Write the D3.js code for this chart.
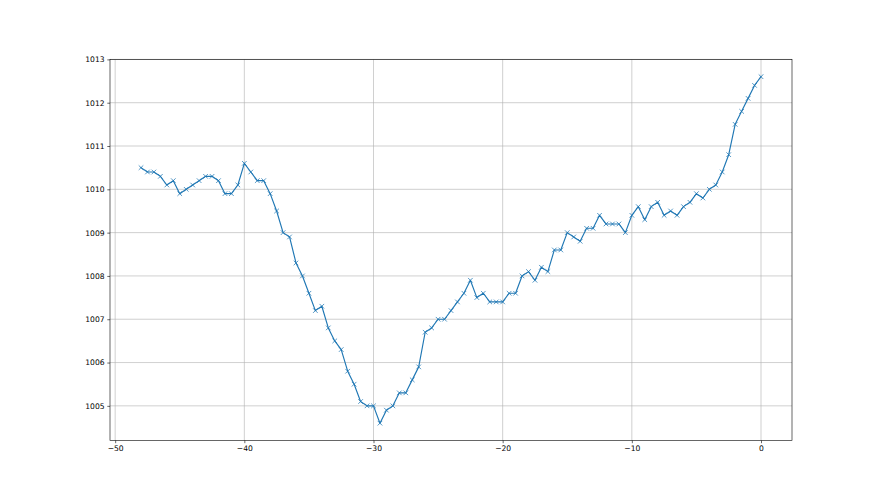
<!DOCTYPE html>
<html><head><meta charset="utf-8">
<script src="https://cdn.jsdelivr.net/npm/d3@7"></script>
<style>
html,body{margin:0;padding:0;background:#fff;}
svg text{font-family:"DejaVu Sans",sans-serif;}
</style></head>
<body><div id="chart"></div>
<script>
const hours = [-48,-47.5,-47,-46.5,-46,-45.5,-45,-44.5,-44,-43.5,-43,-42.5,-42,-41.5,-41,-40.5,-40,-39.5,-39,-38.5,-38,-37.5,-37,-36.5,-36,-35.5,-35,-34.5,-34,-33.5,-33,-32.5,-32,-31.5,-31,-30.5,-30,-29.5,-29,-28.5,-28,-27.5,-27,-26.5,-26,-25.5,-25,-24.5,-24,-23.5,-23,-22.5,-22,-21.5,-21,-20.5,-20,-19.5,-19,-18.5,-18,-17.5,-17,-16.5,-16,-15.5,-15,-14.5,-14,-13.5,-13,-12.5,-12,-11.5,-11,-10.5,-10,-9.5,-9,-8.5,-8,-7.5,-7,-6.5,-6,-5.5,-5,-4.5,-4,-3.5,-3,-2.5,-2,-1.5,-1,-0.5,0];
const pressure = [1010.5,1010.4,1010.4,1010.3,1010.1,1010.2,1009.9,1010.0,1010.1,1010.2,1010.3,1010.3,1010.2,1009.9,1009.9,1010.1,1010.6,1010.4,1010.2,1010.2,1009.9,1009.5,1009.0,1008.9,1008.3,1008.0,1007.6,1007.2,1007.3,1006.8,1006.5,1006.3,1005.8,1005.5,1005.1,1005.0,1005.0,1004.6,1004.9,1005.0,1005.3,1005.3,1005.6,1005.9,1006.7,1006.8,1007.0,1007.0,1007.2,1007.4,1007.6,1007.9,1007.5,1007.6,1007.4,1007.4,1007.4,1007.6,1007.6,1008.0,1008.1,1007.9,1008.2,1008.1,1008.6,1008.6,1009.0,1008.9,1008.8,1009.1,1009.1,1009.4,1009.2,1009.2,1009.2,1009.0,1009.4,1009.6,1009.3,1009.6,1009.7,1009.4,1009.5,1009.4,1009.6,1009.7,1009.9,1009.8,1010.0,1010.1,1010.4,1010.8,1011.5,1011.8,1012.1,1012.4,1012.6];
const xTicks = [-50,-40,-30,-20,-10,0];
const yTicks = [1005,1006,1007,1008,1009,1010,1011,1012,1013];

const W = 880, H = 495;
const m = {left:110, right:88, top:59.4, bottom:54.5};
const svg = d3.select("#chart").append("svg").attr("width",W).attr("height",H);
const data = hours.map((h,i)=>({x:h,y:pressure[i]}));

const xmin = d3.min(hours), xmax = d3.max(hours);
const ymin = d3.min(pressure), ymax = d3.max(pressure);
const xpad = (xmax-xmin)*0.05, ypad = (ymax-ymin)*0.05;
const x = d3.scaleLinear().domain([xmin-xpad, xmax+xpad]).range([m.left, W-m.right]);
const y = d3.scaleLinear().domain([ymin-ypad, ymax+ypad]).range([H-m.bottom, m.top]);

// grid
const g = svg.append("g");
g.selectAll("line.gx").data(xTicks).join("line")
  .attr("x1",d=>x(d)).attr("x2",d=>x(d)).attr("y1",m.top).attr("y2",H-m.bottom)
  .attr("stroke","#b0b0b0").attr("stroke-width",0.6);
g.selectAll("line.gy").data(yTicks).join("line")
  .attr("y1",d=>y(d)).attr("y2",d=>y(d)).attr("x1",m.left).attr("x2",W-m.right)
  .attr("stroke","#b0b0b0").attr("stroke-width",0.6);

// line
const color = "#1f77b4";
svg.append("path").datum(data)
  .attr("fill","none").attr("stroke",color).attr("stroke-width",1.15)
  .attr("stroke-linejoin","round").attr("stroke-linecap","square")
  .attr("d", d3.line().x(d=>x(d.x)).y(d=>y(d.y)));

// markers
const r = 2.3;
svg.append("g").selectAll("path").data(data).join("path")
  .attr("fill","none").attr("stroke",color).attr("stroke-width",0.76)
  .attr("d", d=>{const cx=x(d.x), cy=y(d.y);
    return `M${cx-r},${cy-r}L${cx+r},${cy+r}M${cx-r},${cy+r}L${cx+r},${cy-r}`;});

// axes
const fmt = d=> d<0 ? "\u2212"+Math.abs(d) : String(d);
const xAxis = svg.append("g").attr("transform",`translate(0,${H-m.bottom})`)
  .call(d3.axisBottom(x).tickValues(xTicks).tickFormat(fmt).tickSize(2.7).tickPadding(2.7));
const yAxis = svg.append("g").attr("transform",`translate(${m.left},0)`)
  .call(d3.axisLeft(y).tickValues(yTicks).tickFormat(d=>d).tickSize(2.7).tickPadding(2.7));
[xAxis,yAxis].forEach(a=>{
  a.select(".domain").remove();
  a.selectAll(".tick line").attr("stroke","#000").attr("stroke-width",0.6);
  a.selectAll(".tick text").attr("font-size","7.6px").attr("fill","#000")
    .attr("font-family","DejaVu Sans");
});

// spines
svg.append("rect").attr("x",m.left).attr("y",m.top)
  .attr("width",W-m.right-m.left).attr("height",H-m.bottom-m.top)
  .attr("fill","none").attr("stroke","#000").attr("stroke-width",0.6);
</script></body></html>
